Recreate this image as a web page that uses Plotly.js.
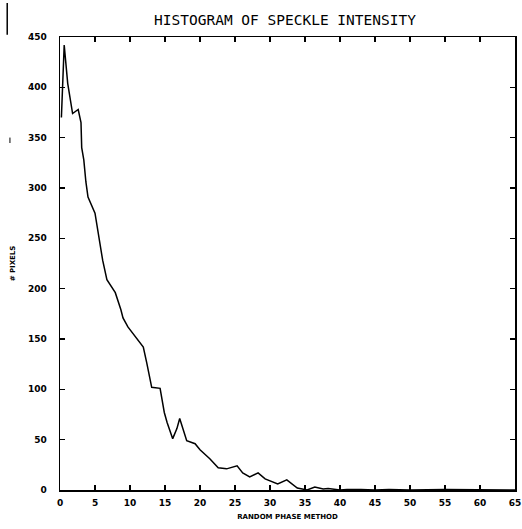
<!DOCTYPE html>
<html>
<head>
<meta charset="utf-8">
<script src="https://cdn.plot.ly/plotly-3.0.1.min.js"></script>
<style>html,body{margin:0;padding:0;background:#fff;}#chart{width:522px;height:529px;}</style>
</head>
<body>
<div id="chart"></div>
<script>
// Values
var intensity = [0.2, 0.6, 1.1, 1.6, 1.8, 2.6, 3.0, 3.1, 3.4, 3.7, 4.0, 5.0, 5.4, 5.6, 6.1, 6.7, 7.9, 8.7, 9.0, 9.7, 11.9, 12.4, 13.1, 14.3, 14.6, 14.9, 15.3, 15.6, 16.1, 16.7, 17.1, 18.1, 19.3, 20.0, 21.4, 22.6, 23.8, 25.3, 26.1, 27.1, 28.3, 29.3, 31.1, 32.4, 33.9, 35.3, 36.4, 37.6, 38.3, 40.0, 41.0, 43.0, 45.0, 47.0, 50.0, 55.0, 60.0, 65.0];
var pixels = [370, 442, 404, 384, 374, 378, 365, 340, 328, 306, 291, 275, 258, 250, 228, 209, 196, 179, 171, 162, 142, 126, 102, 101, 87, 77, 67, 61, 51, 61, 71, 49, 46, 40, 31, 22, 21, 24, 17, 13, 17, 11, 6, 10, 2, 0, 3, 1, 1.5, 0, 0.5, 0.5, 0, 0.5, 0, 0.5, 0, 0];
var xTicks = [0, 5, 10, 15, 20, 25, 30, 35, 40, 45, 50, 55, 60, 65];
var yTicks = [0, 50, 100, 150, 200, 250, 300, 350, 400, 450];
var titleText = "HISTOGRAM OF SPECKLE INTENSITY";
var xTitle = "RANDOM PHASE METHOD";
var yTitle = "# PIXELS";

var tickFont = {family: "DejaVu Sans", size: 9, color: "#000", weight: "bold"};
var axisCommon = {
  showgrid: false, zeroline: false, showline: true, linecolor: "#000", linewidth: 1.5,
  mirror: "ticks", ticks: "inside", ticklen: 5, tickwidth: 1.2, tickcolor: "#000",
  tickfont: tickFont
};

var trace = {
  x: intensity, y: pixels, type: "scatter", mode: "lines",
  line: {color: "#000", width: 1.5}, hoverinfo: "none"
};

var layout = {
  width: 522, height: 529,
  margin: {l: 60, r: 7, t: 37, b: 39, pad: 0},
  paper_bgcolor: "#fff", plot_bgcolor: "#fff",
  showlegend: false,
  title: {text: titleText, x: 0.546, xanchor: "center", y: 0.962, yanchor: "middle",
          font: {family: "DejaVu Sans Mono", size: 14.5, color: "#000"}},
  xaxis: Object.assign({}, axisCommon, {
    range: [0, 65], tickvals: xTicks, ticktext: xTicks.map(String), ticklabelstandoff: 4,
    title: {text: xTitle, standoff: 7, font: {family: "DejaVu Sans", size: 7, color: "#000", weight: "bold"}}
  }),
  yaxis: Object.assign({}, axisCommon, {
    range: [0, 450], tickvals: yTicks, ticktext: yTicks.map(String), ticklabelstandoff: 10,
    title: {text: yTitle, standoff: 11, font: {family: "DejaVu Sans", size: 7, color: "#000", weight: "bold"}}
  }),
  shapes: [
    {type: "line", xref: "paper", yref: "paper", x0: -0.116, x1: -0.116, y0: 1.075, y1: 1.005, line: {color: "#000", width: 1.5}},
    {type: "line", xref: "paper", yref: "paper", x0: -0.11, x1: -0.11, y0: 0.778, y1: 0.766, line: {color: "#000", width: 1}}
  ]
};

Plotly.newPlot("chart", [trace], layout, {displayModeBar: false, staticPlot: true});
</script>
</body>
</html>
